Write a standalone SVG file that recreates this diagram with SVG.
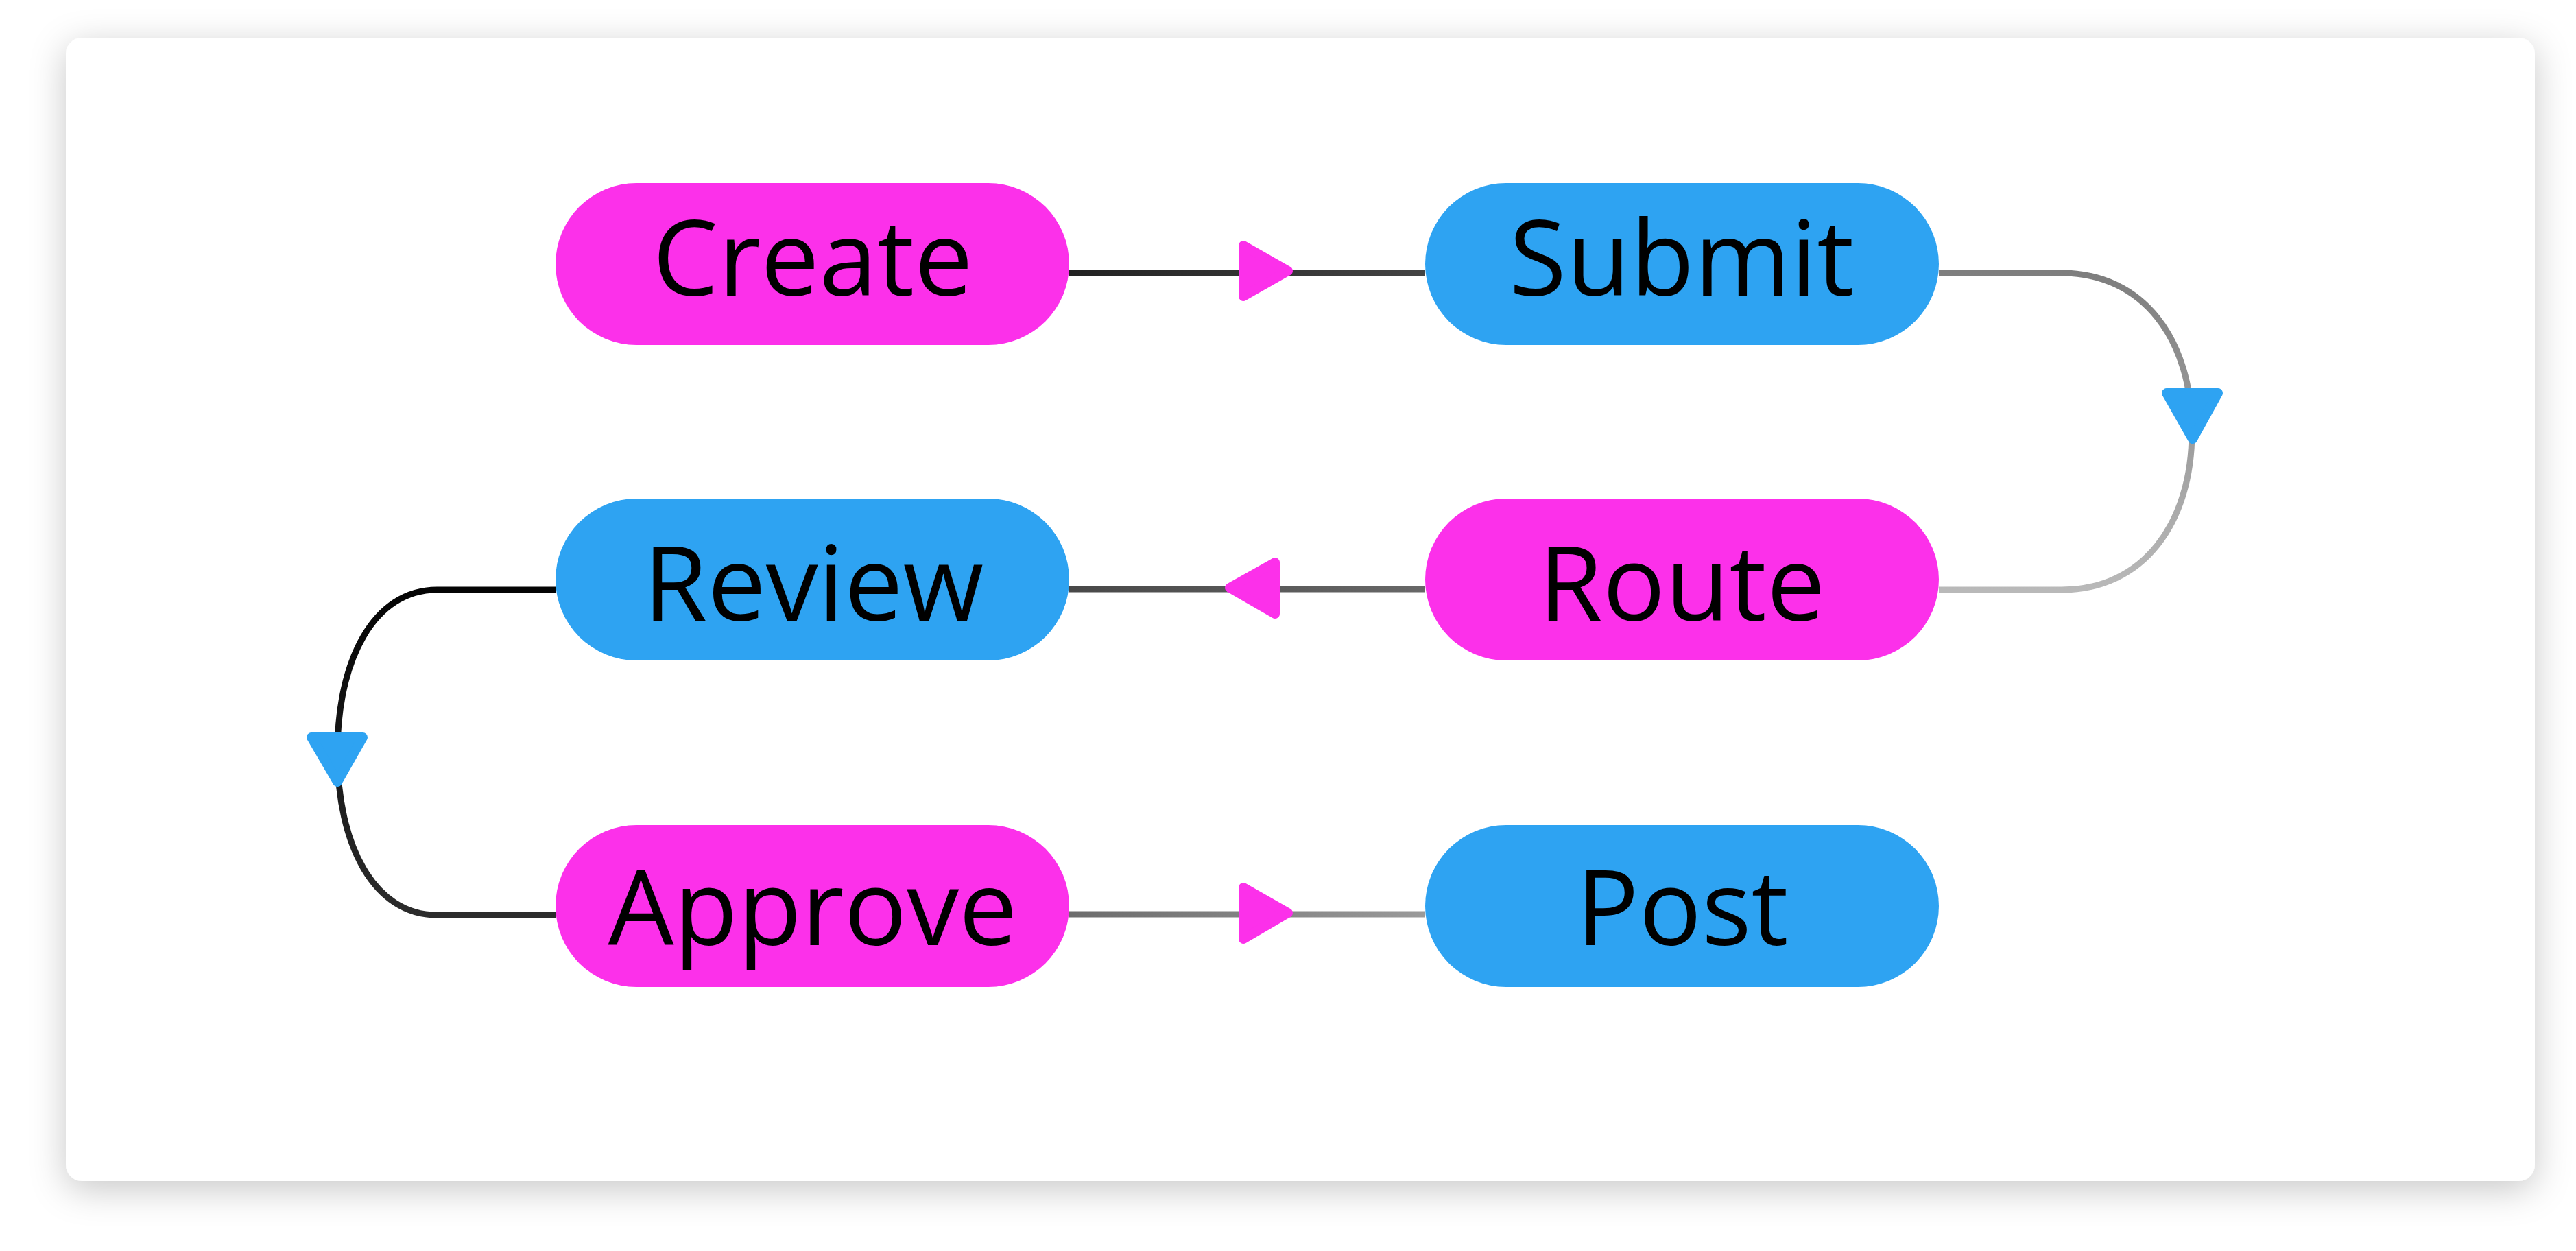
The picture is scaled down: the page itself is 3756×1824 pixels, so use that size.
<svg xmlns="http://www.w3.org/2000/svg" width="3756" height="1824" viewBox="0 0 3756 1824">
<defs>
<filter id="shadow" x="-5%" y="-8%" width="110%" height="120%">
<feDropShadow dx="0" dy="12" stdDeviation="26" flood-color="#000" flood-opacity="0.22"/>
</filter>
<linearGradient id="g1" gradientUnits="userSpaceOnUse" x1="1559" y1="0" x2="2078" y2="0"><stop offset="0" stop-color="#222"/><stop offset="1" stop-color="#444"/></linearGradient>
<linearGradient id="g2" gradientUnits="userSpaceOnUse" x1="0" y1="398" x2="0" y2="860"><stop offset="0" stop-color="#7e7e7e"/><stop offset="1" stop-color="#b9b9b9"/></linearGradient>
<linearGradient id="g3" gradientUnits="userSpaceOnUse" x1="1559" y1="0" x2="2078" y2="0"><stop offset="0" stop-color="#484848"/><stop offset="1" stop-color="#686868"/></linearGradient>
<linearGradient id="g4" gradientUnits="userSpaceOnUse" x1="0" y1="860" x2="0" y2="1334"><stop offset="0" stop-color="#040404"/><stop offset="1" stop-color="#2c2c2c"/></linearGradient>
<linearGradient id="g5" gradientUnits="userSpaceOnUse" x1="1559" y1="0" x2="2078" y2="0"><stop offset="0" stop-color="#6c6c6c"/><stop offset="1" stop-color="#9a9a9a"/></linearGradient>
</defs>
<style>
.node-m{fill:#FC30EA}
.node-b{fill:#2EA3F2}
.label{font-family:"Open Sans","Noto Sans","DejaVu Sans",sans-serif;font-size:152px;fill:#000;text-anchor:middle}
.edge{fill:none;stroke-width:9}
.arr-m{fill:#FC30EA;stroke:#FC30EA;stroke-width:14;stroke-linejoin:round}
.arr-b{fill:#2EA3F2;stroke:#2EA3F2;stroke-width:14;stroke-linejoin:round}
</style>
<rect width="3756" height="1824" fill="#fff"/>
<rect x="96" y="55" width="3600" height="1667" rx="24" fill="#fff" filter="url(#shadow)"/>
<g id="connectors">
<path class="edge" stroke="url(#g1)" d="M1559,398 H2078"/>
<path class="edge" stroke="url(#g2)" d="M2827,398 H3006 C3125,398 3196,495 3196,629 C3196,763 3125,860 3006,860 H2827"/>
<path class="edge" stroke="url(#g3)" d="M2078,859 H1559"/>
<path class="edge" stroke="url(#g4)" d="M810,860 H637 C545,860 492,962 492,1097 C492,1232 545,1334 637,1334 H810"/>
<path class="edge" stroke="url(#g5)" d="M1559,1333 H2078"/>
<polygon class="arr-m" points="1813,358 1878,395 1813,432"/>
<polygon class="arr-b" points="3159,573 3234,573 3197,640"/>
<polygon class="arr-m" points="1793,857 1859,820 1859,895"/>
<polygon class="arr-b" points="454,1075 529,1075 492,1140"/>
<polygon class="arr-m" points="1813,1294 1878,1331 1813,1369"/>
</g>
<g id="create"><rect class="node-m" x="810" y="267" width="749" height="236" rx="118"/><text class="label" x="1185" y="431">Create</text></g>
<g id="submit"><rect class="node-b" x="2078" y="267" width="749" height="236" rx="118"/><text class="label" x="2452" y="431">Submit</text></g>
<g id="review"><rect class="node-b" x="810" y="727" width="749" height="236" rx="118"/><text class="label" x="1186" y="905">Review</text></g>
<g id="route"><rect class="node-m" x="2078" y="727" width="749" height="236" rx="118"/><text class="label" x="2452" y="905">Route</text></g>
<g id="approve"><rect class="node-m" x="810" y="1203" width="749" height="236" rx="118"/><text class="label" x="1185" y="1378">Approve</text></g>
<g id="post"><rect class="node-b" x="2078" y="1203" width="749" height="236" rx="118"/><text class="label" x="2453" y="1378">Post</text></g>
</svg>
